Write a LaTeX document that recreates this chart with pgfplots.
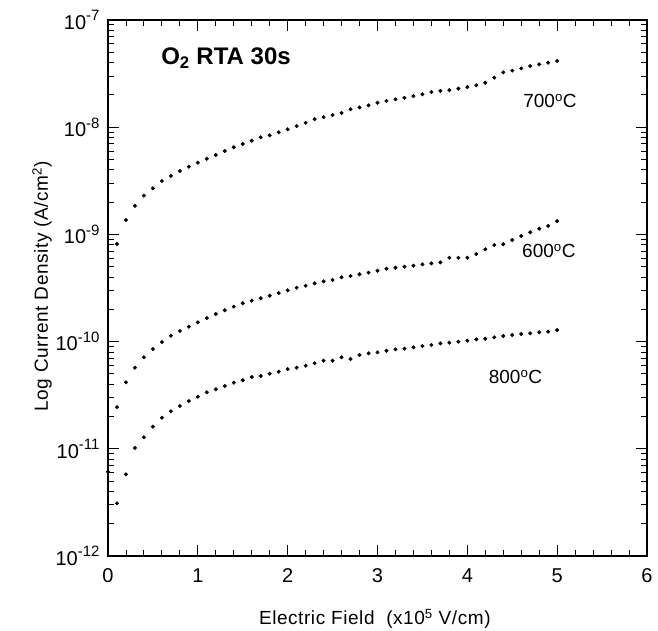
\documentclass[border=0pt]{standalone}
\usepackage{pgfplots}
\pgfplotsset{compat=1.18}
\usepackage{fontspec}
\setmainfont{Liberation Sans}
\newfontfamily\widefont[LetterSpace=3]{Liberation Sans}
\newcommand{\sps}[1]{\raisebox{0.42em}{\fontsize{15}{16}\selectfont #1}}
\begin{document}
\begin{tikzpicture}
\path[use as bounding box] (-108pt,-74pt) rectangle (550pt,556pt);
\begin{axis}[
  at={(0pt,0pt)}, anchor=south west,
  scale only axis, width=539pt, height=536pt,
  xmin=0, xmax=6, ymode=log, ymin=1e-12, ymax=1e-7,
  axis line style={line width=1.1pt},
  tick style={black, line width=0.9pt},
  major tick length=11pt, minor tick length=6pt,
  tick align=inside,
  xtick={0,1,2,3,4,5,6}, minor x tick num=4,
  ytick={1e-12,1e-11,1e-10,1e-9,1e-8,1e-7},
  yticklabels={10\sps{-12},10\sps{-11},10\sps{-10},10\sps{-9},10\sps{-8},10\sps{-7}},
  xticklabels={0,1,2,3,4,5,6},
  ticklabel style={font=\fontsize{20}{24}\selectfont},
  xticklabel style={yshift=-9pt},
  yticklabel style={xshift=-5pt},
  clip=false,
]
\addplot[only marks, mark=*, mark size=1.8pt, black] coordinates {
(0.1,8.13e-10)(0.2,1.36e-9)(0.3,1.85e-9)(0.4,2.30e-9)(0.5,2.69e-9)(0.6,3.15e-9)(0.7,3.51e-9)(0.8,3.90e-9)(0.9,4.28e-9)(1.0,4.67e-9)
(1.1,5.08e-9)(1.2,5.51e-9)(1.3,6.00e-9)(1.4,6.50e-9)(1.5,6.97e-9)(1.6,7.48e-9)(1.7,8.05e-9)(1.8,8.40e-9)(1.9,8.96e-9)(2.0,9.56e-9)
(2.1,1.026e-8)(2.2,1.10e-8)(2.3,1.19e-8)(2.4,1.24e-8)(2.5,1.30e-8)(2.6,1.36e-8)(2.7,1.47e-8)(2.8,1.53e-8)(2.9,1.60e-8)(3.0,1.69e-8)
(3.1,1.76e-8)(3.2,1.82e-8)(3.3,1.88e-8)(3.4,1.95e-8)(3.5,2.03e-8)(3.6,2.13e-8)(3.7,2.18e-8)(3.8,2.22e-8)(3.9,2.29e-8)(4.0,2.37e-8)
(4.1,2.46e-8)(4.2,2.60e-8)(4.3,2.90e-8)(4.4,3.25e-8)(4.5,3.37e-8)(4.6,3.54e-8)(4.7,3.72e-8)(4.8,3.86e-8)(4.9,4.00e-8)(5.0,4.15e-8)
};
\addplot[only marks, mark=*, mark size=1.8pt, black] coordinates {
(0.1,2.45e-11)(0.2,4.17e-11)(0.3,5.71e-11)(0.4,7.14e-11)(0.5,8.53e-11)(0.6,9.91e-11)(0.7,1.135e-10)(0.8,1.256e-10)(0.9,1.377e-10)(1.0,1.514e-10)
(1.1,1.66e-10)(1.2,1.81e-10)(1.3,1.96e-10)(1.4,2.12e-10)(1.5,2.28e-10)(1.6,2.41e-10)(1.7,2.54e-10)(1.8,2.68e-10)(1.9,2.84e-10)(2.0,3.01e-10)
(2.1,3.18e-10)(2.2,3.32e-10)(2.3,3.50e-10)(2.4,3.65e-10)(2.5,3.76e-10)(2.6,3.98e-10)(2.7,4.09e-10)(2.8,4.25e-10)(2.9,4.40e-10)(3.0,4.59e-10)
(3.1,4.79e-10)(3.2,4.89e-10)(3.3,5.00e-10)(3.4,5.11e-10)(3.5,5.26e-10)(3.6,5.37e-10)(3.7,5.49e-10)(3.8,6.06e-10)(3.9,6.06e-10)(4.0,6.06e-10)
(4.1,6.56e-10)(4.2,7.26e-10)(4.3,7.96e-10)(4.4,8.09e-10)(4.5,8.87e-10)(4.6,9.66e-10)(4.7,1.047e-9)(4.8,1.13e-9)(4.9,1.20e-9)(5.0,1.33e-9)
};
\addplot[only marks, mark=*, mark size=1.8pt, black] coordinates {
(0.0,6.11e-12)(0.1,3.10e-12)(0.2,5.78e-12)(0.3,1.02e-11)(0.4,1.28e-11)(0.5,1.61e-11)(0.6,1.95e-11)(0.7,2.24e-11)(0.8,2.51e-11)(0.9,2.79e-11)(1.0,3.06e-11)
(1.1,3.37e-11)(1.2,3.59e-11)(1.3,3.85e-11)(1.4,4.14e-11)(1.5,4.36e-11)(1.6,4.68e-11)(1.7,4.78e-11)(1.8,5.02e-11)(1.9,5.24e-11)(2.0,5.55e-11)
(2.1,5.71e-11)(2.2,5.96e-11)(2.3,6.28e-11)(2.4,6.64e-11)(2.5,6.64e-11)(2.6,7.14e-11)(2.7,6.89e-11)(2.8,7.50e-11)(2.9,7.78e-11)(3.0,7.94e-11)
(3.1,8.22e-11)(3.2,8.47e-11)(3.3,8.59e-11)(3.4,8.85e-11)(3.5,9.10e-11)(3.6,9.30e-11)(3.7,9.64e-11)(3.8,9.77e-11)(3.9,9.98e-11)(4.0,1.02e-10)
(4.1,1.05e-10)(4.2,1.064e-10)(4.3,1.096e-10)(4.4,1.127e-10)(4.5,1.153e-10)(4.6,1.178e-10)(4.7,1.195e-10)(4.8,1.222e-10)(4.9,1.237e-10)(5.0,1.28e-10)
};
\node[font=\fontsize{24}{28}\selectfont\bfseries] at (axis description cs:0.219,0.929) {O\textsubscript{2} RTA 30s};
\node[font=\fontsize{19}{22}\selectfont] at (axis description cs:0.820,0.849) {700\textsuperscript{o}C};
\node[font=\fontsize{19}{22}\selectfont] at (axis description cs:0.818,0.569) {600\textsuperscript{o}C};
\node[font=\fontsize{19}{22}\selectfont] at (axis description cs:0.756,0.334) {800\textsuperscript{o}C};
\node[font=\widefont\fontsize{19}{22}\selectfont] at ([yshift=-63pt]axis description cs:0.495,0) {Electric Field\ \ (x10\textsuperscript{5} V/cm)};
\node[font=\widefont\fontsize{19}{22}\selectfont, rotate=90] at ([xshift=-66pt]axis description cs:0,0.503) {Log Current Density (A/cm\textsuperscript{2})};
\end{axis}
\end{tikzpicture}
\end{document}
